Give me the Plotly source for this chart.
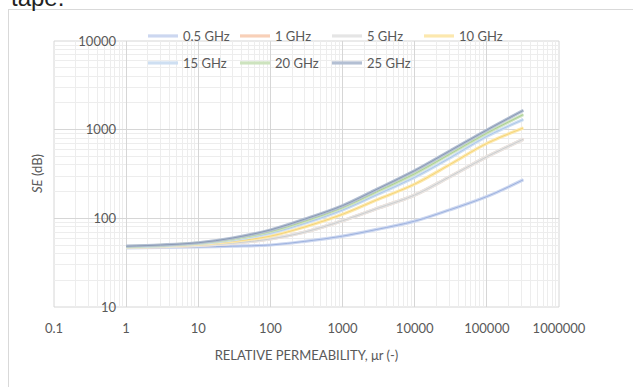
import plotly.graph_objects as go

# ---------------- data ----------------
mu_r = [1, 3, 10, 30, 100, 300, 1000, 3000, 10000, 30000, 100000, 320000]

se_0_5GHz = [46.5, 47, 47.5, 48.5, 50, 55, 63, 75, 93, 124, 176, 272]
se_1GHz   = [47, 48, 49.5, 52.5, 58.5, 70, 94, 129, 183, 292, 495, 780]
se_5GHz   = [47, 48, 49.5, 52.5, 58.5, 70, 94, 129, 183, 292, 495, 780]
se_10GHz  = [47.5, 48.5, 51, 55, 63, 80, 111, 162, 243, 400, 700, 1045]
se_15GHz  = [48, 49, 52, 57, 68, 88, 124, 185, 290, 475, 840, 1300]
se_20GHz  = [48, 49.5, 52.5, 58.5, 71, 93, 132, 200, 318, 525, 915, 1480]
se_25GHz  = [48.5, 50, 53, 60, 74, 98, 139, 213, 345, 570, 990, 1650]

series_names = ["0.5 GHz", "1 GHz", "5 GHz", "10 GHz", "15 GHz", "20 GHz", "25 GHz"]
series_values = [se_0_5GHz, se_1GHz, se_5GHz, se_10GHz, se_15GHz, se_20GHz, se_25GHz]

x_tick_vals = [0.1, 1, 10, 100, 1000, 10000, 100000, 1000000]
x_tick_text = ["0.1", "1", "10", "100", "1000", "10000", "100000", "1000000"]
y_tick_vals = [10, 100, 1000, 10000]
y_tick_text = ["10", "100", "1000", "10000"]

x_title = "RELATIVE PERMEABILITY, \u03bcr (-)"
y_title = "<i>SE</i> (dB)"

# ---------------- styles ----------------
halo_colors = ["#CCD7F0", "#F8D0B8", "#E5E5E5", "#FCE8AE", "#CEDFF2", "#CDE3BE", "#B3BFD3"]
core_colors = ["#98AEDC", "#F1A980", "#CBCBCB", "#F4D273", "#A9C5E8", "#A9CE90", "#8696B0"]

W, H = 633, 387
ML, MR, MT, MB = 54, 74, 41, 80
PW, PH = W - ML - MR, H - MT - MB

def px_x(px):
    return (px - ML) / PW

def px_y(py):
    return (H - MB - py) / PH

FONT = "Lato"
GRAY = "#595959"

fig = go.Figure()
for i, (name, vals) in enumerate(zip(series_names, series_values)):
    leg = "legend" if i < 4 else "legend2"
    fig.add_trace(go.Scatter(
        x=mu_r, y=vals, mode="lines", name=name,
        line=dict(color=halo_colors[i], width=3.2, shape="spline", smoothing=1.0),
        legendgroup=name, legend=leg, showlegend=True,
    ))
    fig.add_trace(go.Scatter(
        x=mu_r, y=vals, mode="lines", name=name,
        line=dict(color=core_colors[i], width=0.9, shape="spline", smoothing=1.0),
        legendgroup=name, legend=leg, showlegend=False, hoverinfo="skip",
    ))

fig.update_layout(
    width=W, height=H,
    margin=dict(l=ML, r=MR, t=MT, b=MB, autoexpand=False),
    paper_bgcolor="white", plot_bgcolor="white",
    font=dict(family=FONT, size=13, color=GRAY),
    xaxis=dict(
        type="log", range=[-1, 6],
        tickmode="array", tickvals=x_tick_vals, ticktext=x_tick_text,
        showgrid=True, gridcolor="#D6D6D6", gridwidth=1,
        minor=dict(dtick="D1", showgrid=True, gridcolor="#EDEDED", gridwidth=1, ticks=""),
        ticks="", ticklabelstandoff=12,
        zeroline=False, showline=False, automargin=False,
        tickfont=dict(family=FONT, size=13, color=GRAY),
        title=dict(text=x_title, font=dict(family=FONT, size=13, color=GRAY), standoff=15),
    ),
    yaxis=dict(
        type="log", range=[1, 4],
        tickmode="array", tickvals=y_tick_vals, ticktext=y_tick_text,
        showgrid=True, gridcolor="#D6D6D6", gridwidth=1,
        minor=dict(dtick="D1", showgrid=True, gridcolor="#EDEDED", gridwidth=1, ticks=""),
        ticks="", anchor="free", position=px_x(116), autoshift=False,
        zeroline=False, showline=False, automargin=False,
        tickfont=dict(family=FONT, size=13, color=GRAY),
    ),
    legend=dict(
        orientation="h", x=px_x(143), xanchor="left", y=px_y(36), yanchor="middle",
        bgcolor="rgba(0,0,0,0)", font=dict(family=FONT, size=13, color=GRAY),
        entrywidth=47, entrywidthmode="pixels", itemwidth=30,
    ),
    legend2=dict(
        orientation="h", x=px_x(143), xanchor="left", y=px_y(63), yanchor="middle",
        bgcolor="rgba(0,0,0,0)", font=dict(family=FONT, size=13, color=GRAY),
        entrywidth=47, entrywidthmode="pixels", itemwidth=30,
    ),
    showlegend=True,
)

# plot frame
fig.add_shape(type="rect", xref="paper", yref="paper", x0=0, x1=1, y0=0, y1=1,
              line=dict(color="#D6D6D6", width=1), layer="below")
# container border (top and left)
fig.add_shape(type="line", xref="paper", yref="paper",
              x0=px_x(8), x1=px_x(640), y0=px_y(9.5), y1=px_y(9.5),
              line=dict(color="#D9D9D9", width=1))
fig.add_shape(type="line", xref="paper", yref="paper",
              x0=px_x(8.5), x1=px_x(8.5), y0=px_y(9.5), y1=px_y(395),
              line=dict(color="#D9D9D9", width=1))

# y-axis title
fig.add_annotation(text=y_title, xref="paper", yref="paper",
                   x=px_x(37), y=0.5, xanchor="center", yanchor="middle",
                   textangle=-90, showarrow=False,
                   font=dict(family=FONT, size=13, color=GRAY))
# cut-off caption text at very top
fig.add_annotation(text="tape.", xref="paper", yref="paper",
                   x=px_x(9), y=px_y(13), xanchor="left", yanchor="bottom",
                   showarrow=False,
                   font=dict(family="Liberation Sans", size=24, color="#222222"))

fig.write_html(
    "out.html",
    config={"displayModeBar": False},
    post_script="document.body.style.margin='0px';document.body.style.overflow='hidden';",
)
